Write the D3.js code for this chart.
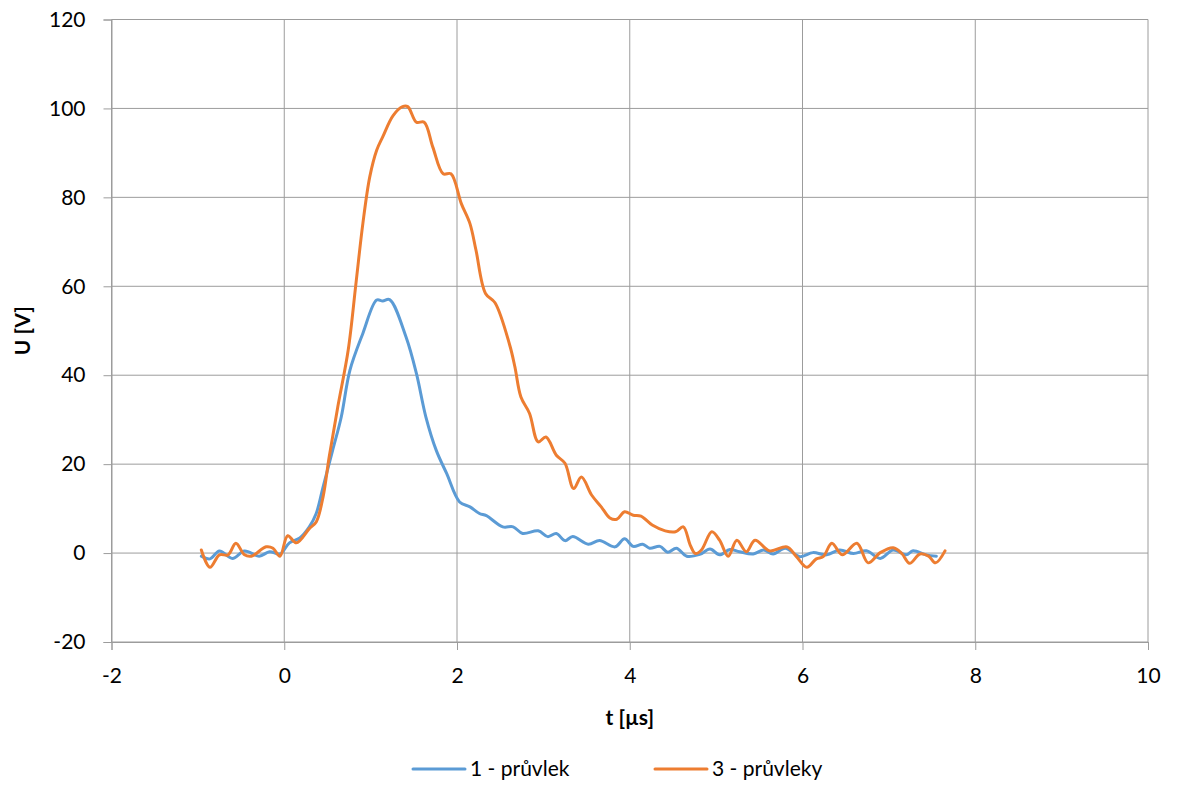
<!DOCTYPE html>
<html>
<head>
<meta charset="utf-8">
<script src="https://cdn.jsdelivr.net/npm/d3@7/dist/d3.min.js"></script>
<style>
  body { margin: 0; background: #fff; }
  svg text { font-family: Lato, "Open Sans", sans-serif; fill: #000; }
</style>
</head>
<body>
<div id="chart"></div>
<script>
// Series (t in µs, U in V)
const seriesNames = ['1 - průvlek', '3 - průvleky'];
const seriesColors = ['#5b9bd5', '#ed7d31'];

const t1 = [-0.96, -0.86, -0.75, -0.6, -0.46, -0.29, -0.17, -0.05, 0.06, 0.18, 0.29, 0.37, 0.45, 0.56, 0.66, 0.76, 0.91, 1.07, 1.14, 1.22, 1.41, 1.53, 1.64, 1.76, 1.88, 2.03, 2.15, 2.26, 2.34, 2.53, 2.65, 2.76, 2.94, 3.05, 3.15, 3.25, 3.34, 3.52, 3.65, 3.83, 3.94, 4.04, 4.15, 4.23, 4.35, 4.44, 4.54, 4.66, 4.81, 4.93, 5.04, 5.16, 5.27, 5.43, 5.55, 5.66, 5.8, 5.97, 6.12, 6.28, 6.43, 6.59, 6.74, 6.9, 7.05, 7.2, 7.28, 7.43, 7.55];
const u1 = [-0.7, -1.3, 0.45, -1.2, 0.45, -0.7, 0.3, -0.2, 2.3, 3.4, 5.9, 8.9, 14.9, 23.1, 30.6, 41.1, 49.4, 56.9, 56.7, 57, 48.6, 40.4, 30.6, 23.1, 17.9, 11.5, 10.4, 8.9, 8.4, 5.9, 5.9, 4.4, 5.0, 3.7, 4.4, 2.8, 3.7, 2.0, 2.8, 1.4, 3.2, 1.5, 2.0, 1.1, 1.5, 0.2, 1.1, -0.7, -0.3, 0.9, -0.4, 0.8, 0.3, -0.2, 0.7, -0.2, 1.1, -0.8, 0.1, -0.4, 0.7, -0.1, 0.5, -1.2, 0.7, -0.4, 0.5, -0.4, -0.7];

const t3 = [-0.96, -0.86, -0.75, -0.65, -0.56, -0.46, -0.38, -0.21, -0.13, -0.05, 0.04, 0.14, 0.29, 0.37, 0.45, 0.52, 0.62, 0.74, 0.83, 0.91, 0.99, 1.07, 1.14, 1.26, 1.37, 1.43, 1.53, 1.62, 1.72, 1.84, 1.93, 2.05, 2.15, 2.22, 2.33, 2.44, 2.61, 2.67, 2.74, 2.84, 2.94, 3.03, 3.15, 3.25, 3.35, 3.44, 3.56, 3.67, 3.77, 3.85, 3.94, 4.04, 4.13, 4.26, 4.41, 4.53, 4.62, 4.7, 4.76, 4.83, 4.95, 5.04, 5.14, 5.24, 5.35, 5.45, 5.62, 5.82, 5.93, 6.05, 6.16, 6.24, 6.34, 6.46, 6.63, 6.76, 6.9, 7.05, 7.15, 7.24, 7.36, 7.46, 7.54, 7.65];
const u3 = [0.7, -3.2, -0.4, -0.4, 2.2, -0.4, -0.7, 1.4, 1.1, -0.7, 3.9, 2.3, 5.5, 7.0, 12.7, 21.6, 32.9, 45.6, 60.6, 74.1, 84.6, 90.6, 93.6, 98.4, 100.4, 100.4, 96.9, 96.9, 91.3, 85.3, 85.3, 78.6, 74.1, 68.1, 58.4, 56.3, 46.8, 41.9, 35.1, 31.4, 25.0, 26.1, 22.0, 20.2, 14.5, 17.1, 13.0, 10.4, 7.9, 7.6, 9.3, 8.5, 8.3, 6.3, 5.0, 4.8, 5.9, 1.8, -0.1, 0.7, 4.8, 2.9, -0.7, 2.9, 0.3, 2.9, 0.5, 1.4, -0.8, -3.2, -1.3, -0.8, 2.2, -0.4, 2.2, -2.2, 0.1, 1.2, -0.1, -2.3, -0.2, -0.7, -2.2, 0.5];

const xTicks = [-2, 0, 2, 4, 6, 8, 10];
const yTicks = [-20, 0, 20, 40, 60, 80, 100, 120];
const xTitle = 't [µs]';
const yTitle = 'U [V]';

const width = 1178, height = 785;
const margin = { left: 111.5, right: 30, top: 19.5, bottom: 143 };

const svg = d3.select('#chart').append('svg')
    .attr('width', width)
    .attr('height', height);

const x = d3.scaleLinear().domain([-2, 10]).range([margin.left, width - margin.right]);
const y = d3.scaleLinear().domain([-20, 120]).range([height - margin.bottom, margin.top]);

const gridColor = '#9c9c9c';
const fmt = d => String(d); // plain hyphen minus, like the original

// Gridlines
svg.append('g')
    .selectAll('line')
    .data(yTicks)
    .join('line')
    .attr('x1', x(-2)).attr('x2', x(10))
    .attr('y1', d => y(d)).attr('y2', d => y(d))
    .attr('stroke', gridColor).attr('stroke-width', 1);

svg.append('g')
    .selectAll('line')
    .data(xTicks)
    .join('line')
    .attr('x1', d => x(d)).attr('x2', d => x(d))
    .attr('y1', y(-20)).attr('y2', y(120))
    .attr('stroke', gridColor).attr('stroke-width', 1);

// Axes
const xAxis = svg.append('g')
    .attr('transform', `translate(0,${y(-20)})`)
    .call(d3.axisBottom(x).tickValues(xTicks).tickSize(8).tickPadding(18).tickFormat(fmt));
const yAxis = svg.append('g')
    .attr('transform', `translate(${x(-2)},0)`)
    .call(d3.axisLeft(y).tickValues(yTicks).tickSize(8).tickPadding(18).tickFormat(fmt));

[xAxis, yAxis].forEach(a => {
    a.select('.domain').attr('stroke', gridColor);
    a.selectAll('.tick line').attr('stroke', gridColor);
    a.selectAll('.tick text').attr('font-size', '21px').attr('fill', '#000')
        .style('font-family', 'Lato, "Open Sans", sans-serif');
});

// Axis titles
svg.append('text')
    .attr('x', x(4)).attr('y', 725)
    .attr('text-anchor', 'middle')
    .attr('font-size', '21px').attr('font-weight', 'bold')
    .text(xTitle);

svg.append('text')
    .attr('transform', `translate(30,${y(50)}) rotate(-90)`)
    .attr('text-anchor', 'middle')
    .attr('font-size', '21px').attr('font-weight', 'bold')
    .text(yTitle);

// Lines
const line = d3.line()
    .x(d => x(d[0]))
    .y(d => y(d[1]))
    .curve(d3.curveCatmullRom.alpha(0.5));

const series = [d3.zip(t1, u1), d3.zip(t3, u3)];

svg.append('g')
    .selectAll('path')
    .data(series)
    .join('path')
    .attr('d', line)
    .attr('fill', 'none')
    .attr('stroke', (d, i) => seriesColors[i])
    .attr('stroke-width', 3)
    .attr('stroke-linejoin', 'round')
    .attr('stroke-linecap', 'round');

// Legend
const legendX = [413, 655];
const legend = svg.append('g')
    .selectAll('g')
    .data(seriesNames)
    .join('g')
    .attr('transform', (d, i) => `translate(${legendX[i]},769)`);

legend.append('line')
    .attr('x1', 0).attr('x2', 52)
    .attr('stroke', (d, i) => seriesColors[i])
    .attr('stroke-width', 3)
    .attr('stroke-linecap', 'round');

legend.append('text')
    .attr('x', 57).attr('y', 7)
    .attr('font-size', '21px')
    .text(d => d);
</script>
</body>
</html>
